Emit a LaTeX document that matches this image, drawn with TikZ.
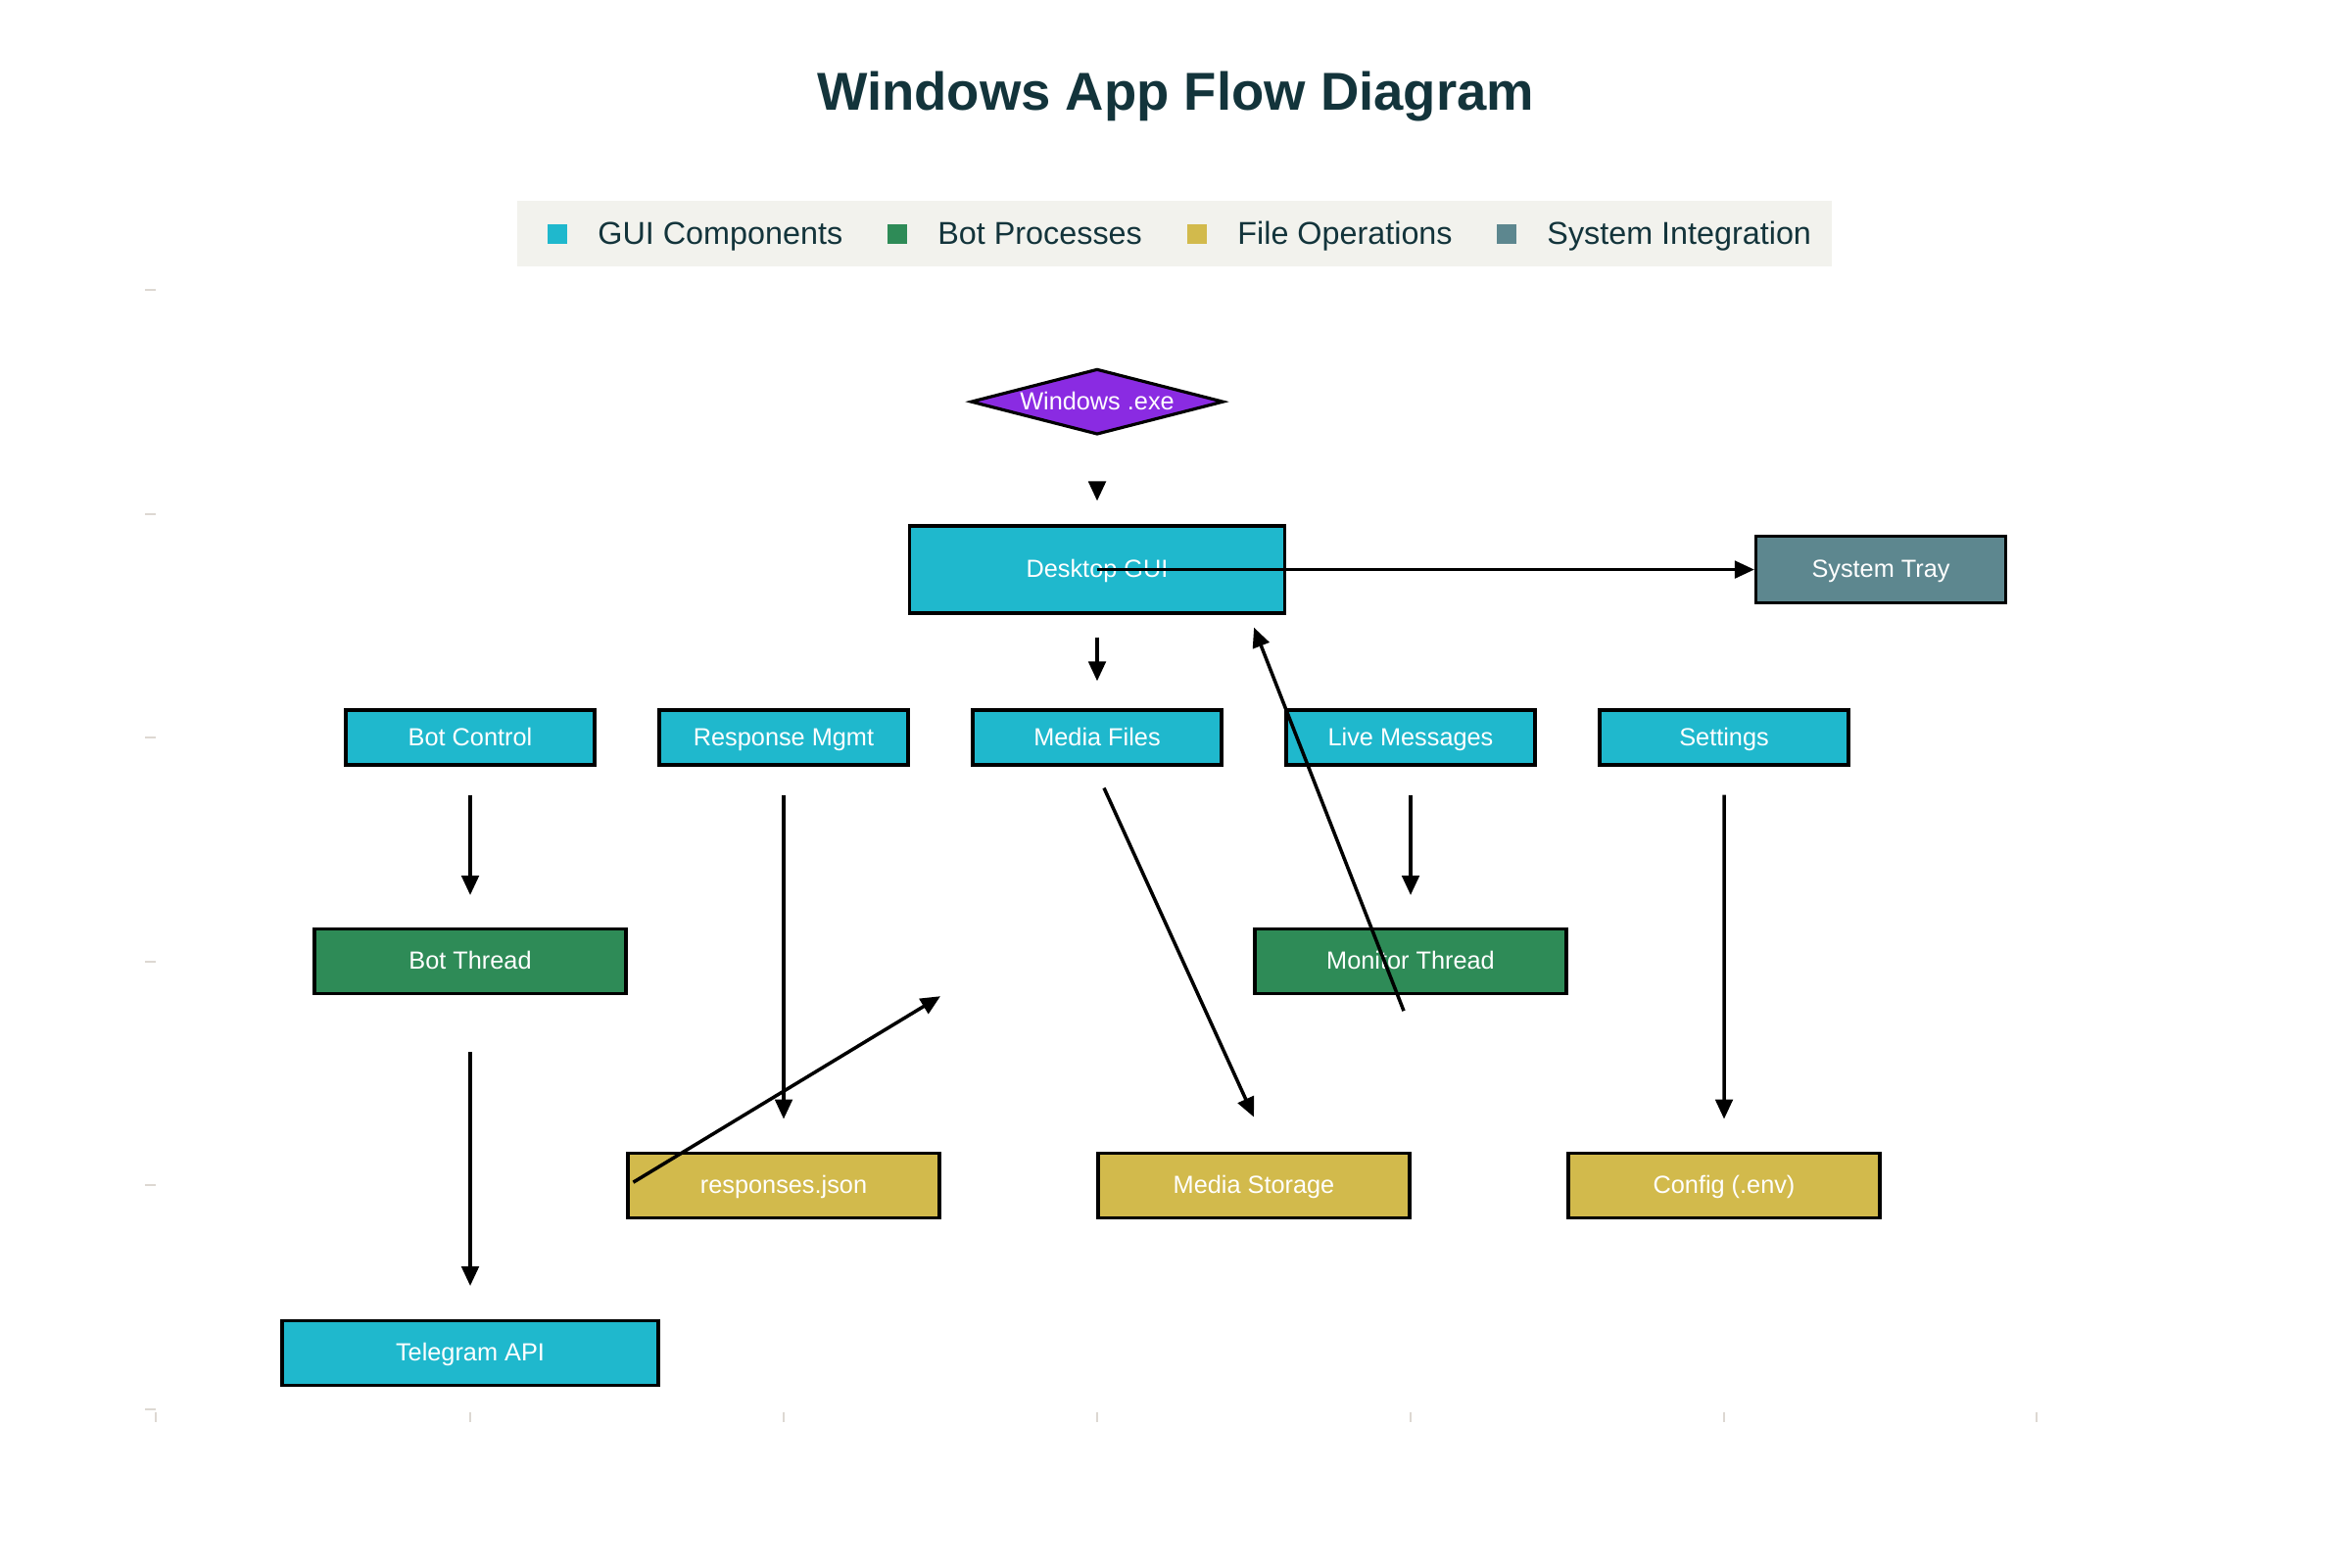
\documentclass[tikz,border=0pt]{standalone}
\usepackage{fontspec}
\setmainfont{Liberation Sans}
\usepackage{tikz}
\usetikzlibrary{positioning}
\usetikzlibrary{arrows.meta,shapes.geometric}

\definecolor{guicol}{HTML}{1FB8CD}
\definecolor{botcol}{HTML}{2E8B57}
\definecolor{filecol}{HTML}{D2BA4C}
\definecolor{syscol}{HTML}{5D878F}
\definecolor{execol}{HTML}{8A2BE2}
\definecolor{inkcol}{HTML}{13343B}
\definecolor{legbg}{HTML}{F2F2ED}
\definecolor{tickcol}{HTML}{DDD8D2}

\begin{document}
\begin{tikzpicture}[
  node distance=2.286cm and 3.2cm, on grid,
  box/.style={draw=black, line width=0.9pt, rectangle, text=white, inner sep=0pt, text height=5.2pt, text depth=0.6pt, font=\fontsize{7.2}{8.6}\selectfont},
  guibox/.style={box, fill=guicol, minimum width=2.54cm, minimum height=0.56cm},
  botbox/.style={box, fill=botcol, minimum width=3.18cm, minimum height=0.66cm},
  filebox/.style={box, fill=filecol, minimum width=3.18cm, minimum height=0.66cm},
  sysbox/.style={box, fill=syscol, minimum width=2.55cm, minimum height=0.68cm},
  legsq/.style={fill=#1, minimum size=0.2cm, inner sep=0pt},
  legtxt/.style={on grid=false, text=inkcol, inner sep=0pt, text height=6.8pt, text depth=0.6pt, font=\fontsize{9.2}{11}\selectfont},
  flow/.style={-{Triangle[length=2mm,width=1.75mm]}, line width=1pt}
]
\useasboundingbox (0,0) rectangle (24,16);

\node[text=inkcol, font=\fontsize{15.5}{18}\selectfont\bfseries] (title) at (12,15.01) {Windows App Flow Diagram};

\node[fill=legbg, minimum width=13.42cm, minimum height=0.67cm, inner sep=0pt] (legend) at (11.99,13.615) {};
\node[legsq=guicol] (lgui) at (5.69,13.61) {};
\node[legtxt, right=0.3cm of lgui] (lguitxt) {GUI Components};
\node[legsq=botcol] (lbot) at (9.16,13.61) {};
\node[legtxt, right=0.3cm of lbot] (lbottxt) {Bot Processes};
\node[legsq=filecol] (lfile) at (12.22,13.61) {};
\node[legtxt, right=0.3cm of lfile] (lfiletxt) {File Operations};
\node[legsq=syscol] (lsys) at (15.38,13.61) {};
\node[legtxt, right=0.3cm of lsys] (lsystxt) {System Integration};

\foreach \y in {13.04,10.75,8.47,6.18,3.90,1.61}
  \draw[tickcol, line width=0.5pt] (1.48,\y) -- (1.59,\y);
\foreach \x in {1.59,4.8,8.0,11.2,14.4,17.6,20.79}
  \draw[tickcol, line width=0.5pt] (\x,1.58) -- (\x,1.48);

\node[guibox] (botctl) at (4.8,8.47) {Bot Control};
\node[guibox, right=of botctl] (resp) {Response Mgmt};
\node[guibox, right=of resp] (media) {Media Files};
\node[guibox, right=of media] (live) {Live Messages};
\node[guibox, right=of live] (settings) {Settings};
\node[guibox, minimum width=3.83cm, minimum height=0.89cm, above=1.714cm of media] (desk) {Desktop GUI};
\node[box, diamond, fill=execol, aspect=3.6, minimum width=2.58cm, minimum height=0.67cm, inner sep=0pt, above=1.714cm of desk] (exe) {Windows .exe};
\node[sysbox, right=8cm of desk] (tray) {System Tray};
\node[botbox, below=of botctl] (botthr) {Bot Thread};
\node[botbox, below=of live] (monthr) {Monitor Thread};
\node[filebox, below=4.572cm of resp] (respjson) {responses.json};
\node[filebox, right=4.8cm of respjson] (mstore) {Media Storage};
\node[filebox, right=4.8cm of mstore] (config) {Config (.env)};
\node[guibox, minimum width=3.84cm, minimum height=0.66cm, below=4cm of botthr] (tgapi) {Telegram API};
\coordinate[above right=1.93cm and 1.6cm of respjson] (rjend);

\draw (exe) edge[flow, shorten <=0.47cm, shorten >=0.24cm] (desk)
      (desk) edge[flow, shorten <=0.23cm, shorten >=0.28cm] (media)
      (desk.center) edge[flow] (tray)
      (botctl) edge[flow, shorten <=0.29cm, shorten >=0.33cm] (botthr)
      (resp) edge[flow, shorten <=0.29cm, shorten >=0.33cm] (respjson)
      (live) edge[flow, shorten <=0.29cm, shorten >=0.33cm] (monthr)
      (settings) edge[flow, shorten <=0.29cm, shorten >=0.33cm] (config)
      (botthr) edge[flow, shorten <=0.58cm, shorten >=0.34cm] (tgapi)
      ([shift={(0.07,-0.22)}]media.south) edge[flow] ([yshift=0.35cm]mstore.north)
      ([shift={(-0.07,-0.16)}]monthr.south) edge[flow] ([shift={(-0.33,-0.13)}]desk.south east)
      ([shift={(0.07,0.03)}]respjson.west) edge[flow] (rjend);
\end{tikzpicture}
\end{document}
